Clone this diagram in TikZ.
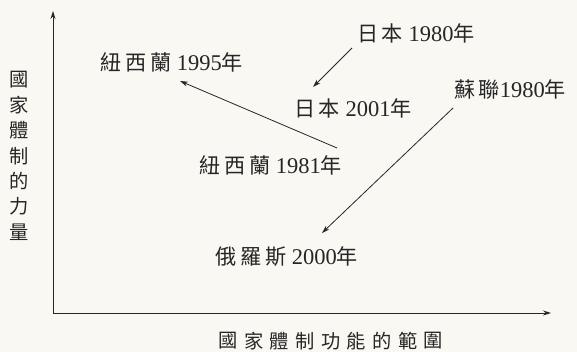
\documentclass[tikz,border=0pt]{standalone}
\usepackage{fontspec}
\setmainfont{Liberation Serif}
\newfontfamily\cjk[Scale=0.94]{Noto Sans CJK TC}
\usetikzlibrary{arrows.meta}
\newcommand\kk{\hspace{3.5pt}}
\definecolor{ink}{HTML}{262626}
\definecolor{paper}{HTML}{FAF8F3}
\begin{document}
\begin{tikzpicture}[x=1pt,y=-1pt,
  lbl/.style={inner sep=0pt,text=ink,font=\fontsize{22.5}{24}\selectfont},
  axlbl/.style={inner sep=0pt,text=ink,font=\fontsize{20.5}{22}\selectfont\cjk},
  axis/.style={draw=ink,line width=0.9pt,-{Stealth[length=8pt,width=5pt]}},
  trend/.style={draw=ink,line width=0.8pt,-{Stealth[length=8pt,width=5pt]}}]
\fill[paper] (0,0) rectangle (577,352);
\useasboundingbox (0,0) rectangle (577,352);
% axes
\coordinate (O) at (53,313);
\coordinate (Ytop) at (53,11);
\coordinate (Xend) at (551,313);
\draw[axis] (O) -- (Ytop);
\draw[axis] (O) -- (Xend);
% axis labels
\foreach \c [count=\i from 0] in {國,家,體,制,的,力,量}
  \node[axlbl] (v\i) at (19,{80+25.3*\i}) {\c};
\foreach \c [count=\i from 0] in {國,家,體,制,功,能,的,範,圍}
  \node[axlbl] (h\i) at ({228+25.7*\i},341) {\c};
% data labels
\node[lbl] (nz95) at (172,62) {{\cjk 紐\kk 西\kk 蘭} 1995{\cjk 年}};
\node[lbl] (jp80) at (416,33) {{\cjk 日\kk 本} 1980{\cjk 年}};
\node[lbl] (jp01) at (353,108) {{\cjk 日\kk 本} 2001{\cjk 年}};
\node[lbl] (su80) at (510,90) {{\cjk 蘇\kk 聯}1980{\cjk 年}};
\node[lbl] (nz81) at (271,165) {{\cjk 紐\kk 西\kk 蘭} 1981{\cjk 年}};
\node[lbl] (ru00) at (287,257) {{\cjk 俄\kk 羅\kk 斯} 2000{\cjk 年}};
% arrow ends
\coordinate (jpS) at (352,48);
\coordinate (jpE) at (313,87);
\coordinate (nzS) at (337,148);
\coordinate (nzE) at (180,81);
\coordinate (suS) at (453,108);
\coordinate (suE) at (322,233);
\draw[trend] (jpS) -- (jpE);
\draw[trend] (nzS) -- (nzE);
\draw[trend] (suS) -- (suE);
\end{tikzpicture}
\end{document}
